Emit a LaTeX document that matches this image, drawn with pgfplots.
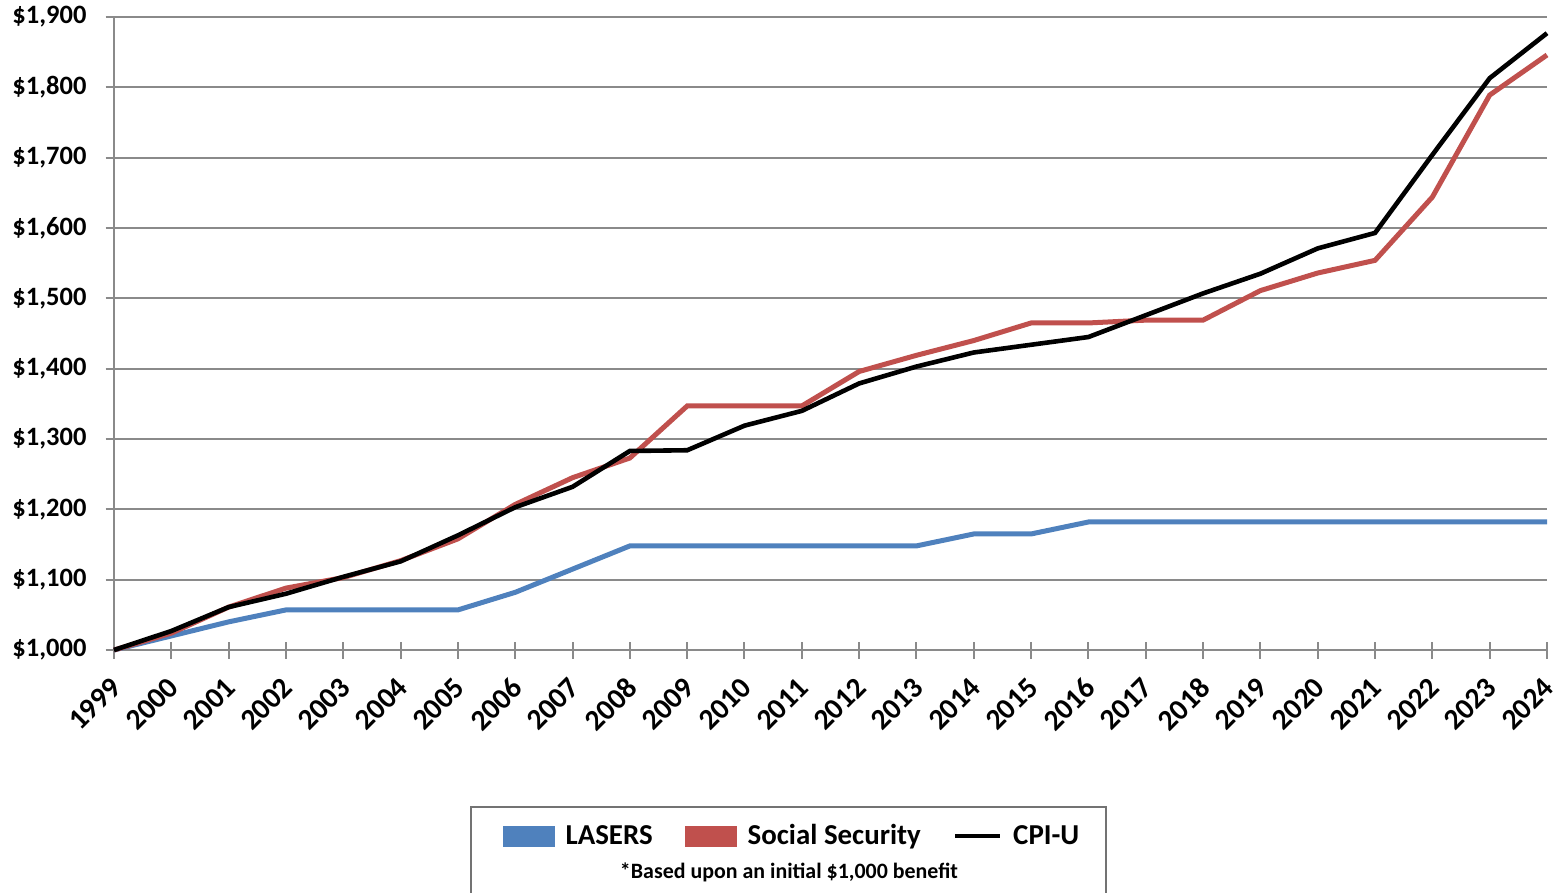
\documentclass[border=0pt]{standalone}
\usepackage{pgfplots}
\pgfplotsset{compat=1.18}
\usepackage{pgfplotstable}
\usepackage{fontspec}
\setmainfont{Carlito}
\definecolor{lasers}{HTML}{4F81BD}
\definecolor{ssec}{HTML}{C0504D}
\definecolor{gridgray}{HTML}{8A8A8A}
\pgfplotstableread{
year lasers ss cpi
1999 1000 1000 1000
2000 1020 1024 1027
2001 1040 1061 1061
2002 1057 1088 1080
2003 1057 1103 1104
2004 1057 1127 1126
2005 1057 1158 1163
2006 1082 1207 1203
2007 1115 1245 1232
2008 1148 1273 1283
2009 1148 1347 1284
2010 1148 1347 1319
2011 1148 1347 1340
2012 1148 1396 1379
2013 1148 1419 1403
2014 1165 1440 1423
2015 1165 1465 1434
2016 1182 1465 1445
2017 1182 1469 1476
2018 1182 1469 1507
2019 1182 1511 1535
2020 1182 1536 1571
2021 1182 1554 1593
2022 1182 1644 1704
2023 1182 1789 1813
2024 1182 1846 1877
}\data
\begin{document}
\begin{tikzpicture}
\useasboundingbox (-57bp,-121.5bp) rectangle (721bp,325bp);
\begin{axis}[
  scale only axis,
  width=716.5bp, height=316.5bp,
  xmin=1999, xmax=2024,
  ymin=1000, ymax=1900,
  xtick={1999,...,2024},
  ytick={1000,1100,...,1900},
  yticklabels={{\$1,000},{\$1,100},{\$1,200},{\$1,300},{\$1,400},{\$1,500},{\$1,600},{\$1,700},{\$1,800},{\$1,900}},
  axis lines*=left,
  axis line style={draw=gridgray, line width=1bp},
  ymajorgrids,
  grid style={draw=gridgray, line width=1bp},
  tick align=center,
  major tick length=8.5bp,
  tick style={draw=gridgray, line width=1bp},
  x tick label style={font=\bfseries\fontsize{14.8}{16}\selectfont, rotate=45, anchor=north east, inner sep=0bp,
     xshift=-7.8bp, yshift=-4.2bp,
     /pgf/number format/1000 sep={}, /pgf/number format/assume math mode=true},
  y tick label style={font=\bfseries\fontsize{13.3}{15}\selectfont, xshift=-6bp},
  clip=false,
  legend columns=3,
  legend style={draw=none, fill=none, at={(0.4724,-0.294)}, anchor=center,
     font=\bfseries\fontsize{14.5}{16}\selectfont,
     nodes={inner sep=0pt},
     /tikz/every odd column/.append style={column sep=5.5bp},
     /tikz/every even column/.append style={column sep=16bp}},
]
\addplot[lasers, line width=2.5bp, legend image code/.code={\fill[lasers] (0bp,-4bp) rectangle (23.5bp,4bp);}] table[x=year,y=lasers]{\data};
\addlegendentry{LASERS}
\addplot[ssec, line width=2.5bp, legend image code/.code={\fill[ssec] (0bp,-4bp) rectangle (23.5bp,4bp);}] table[x=year,y=ss]{\data};
\addlegendentry{Social Security}
\addplot[black, line width=2.3bp, legend image code/.code={\draw[black, line width=2.2bp] (0bp,0bp) -- (22.5bp,0bp);}] table[x=year,y=cpi]{\data};
\addlegendentry{CPI-U}
\node[font=\bfseries\fontsize{11}{13}\selectfont] at (rel axis cs:0.4710,-0.352) {*Based upon an initial \$1,000 benefit};
\draw[draw=gray!90!black, line width=1bp] (rel axis cs:0.2491,-0.395) rectangle (rel axis cs:0.6923,-0.248);
\end{axis}
\end{tikzpicture}
\end{document}
